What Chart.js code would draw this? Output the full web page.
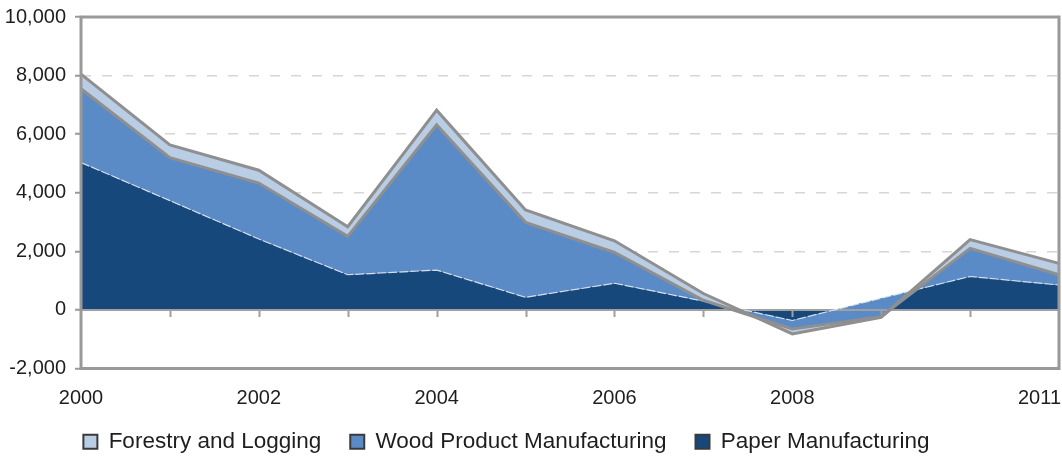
<!DOCTYPE html>
<html lang="en">
<head>
  <meta charset="UTF-8">
  <title>Forestry, wood and paper</title>
  <script src="https://cdn.jsdelivr.net/npm/chart.js"></script>
  <style>
    html, body { margin: 0; padding: 0; background: #fff; }
  </style>
</head>
<body>
  <canvas id="areaChart" width="1062" height="456"></canvas>

  <script>
    const years = ['2000', '2001', '2002', '2003', '2004', '2005', '2006', '2007', '2008', '2009', '2010', '2011'];
    const shownYears = ['2000', '2002', '2004', '2006', '2008', '2011'];

    const paper    = [5030, 3730, 2420, 1200, 1360,  430,  910,  300, -360,  400, 1140,  850];
    const wood     = [2520, 1470, 1910, 1310, 4960, 2560, 1050,   30, -290, -630,  960,  350];
    const forestry = [ 500,  430,  440,  330,  500,  420,  400,  230, -170,  -20,  300,  390];

    const tickFont = '"Liberation Sans", Arial, sans-serif';
    const lineGray = '#8f8f8f';
    const frameGray = '#999999';

    // running totals, one layer on top of the other (Excel style stacking)
    const woodTop = wood.map((v, i) => v + paper[i]);
    const forestryTop = forestry.map((v, i) => v + woodTop[i]);

    const frame = {
      id: 'frame',
      beforeDatasetsDraw(chart) {
        // zero line + its tick marks, over the fills but under the series lines
        const { ctx, chartArea: a, scales: { x, y } } = chart;
        const y0 = Math.round(y.getPixelForValue(0));
        ctx.save();
        ctx.strokeStyle = '#a0a0a0';
        ctx.lineWidth = 2;
        ctx.beginPath();
        ctx.moveTo(a.left, y0);
        ctx.lineTo(a.right, y0);
        for (let i = 1; i < years.length - 1; i++) {
          const px = Math.round(x.getPixelForValue(i)) + 0.5;
          ctx.moveTo(px, y0);
          ctx.lineTo(px, y0 + 7);
        }
        ctx.stroke();
        ctx.restore();
      },
      afterDatasetsDraw(chart) {
        const { ctx, chartArea: a } = chart;
        ctx.save();
        ctx.strokeStyle = frameGray;
        ctx.lineWidth = 3;
        ctx.strokeRect(a.left, a.top, a.right - a.left, a.bottom - a.top);
        ctx.restore();
      },
      afterDraw(chart) {
        const { ctx, chartArea: a, scales: { x } } = chart;
        ctx.save();
        ctx.font = '20px ' + tickFont;
        ctx.fillStyle = '#1e1e1e';
        ctx.textBaseline = 'middle';
        years.forEach((yr, i) => {
          if (!shownYears.includes(yr)) return;
          const px = x.getPixelForValue(i);
          const last = i === years.length - 1;
          ctx.textAlign = last ? 'right' : 'center';
          ctx.fillText(yr, last ? px + 2 : px, a.bottom + 30);
        });
        ctx.restore();
      }
    };

    new Chart(document.getElementById('areaChart'), {
      type: 'line',
      data: {
        labels: years,
        datasets: [
          {
            label: 'Paper Manufacturing',
            data: paper,
            order: 3,
            fill: 'origin',
            backgroundColor: '#17487b',
            borderColor: 'rgba(225,232,240,0.9)',
            borderWidth: 1.2,
            borderDash: [9, 2]
          },
          {
            label: 'Wood Product Manufacturing',
            data: woodTop,
            order: 2,
            fill: '-1',
            backgroundColor: '#5a8bc7',
            borderColor: lineGray,
            borderWidth: 3
          },
          {
            label: 'Forestry and Logging',
            data: forestryTop,
            order: 1,
            fill: '-1',
            backgroundColor: '#b9cde5',
            borderColor: lineGray,
            borderWidth: 3
          }
        ]
      },
      options: {
        responsive: false,
        animation: false,
        events: [],
        elements: { point: { radius: 0 }, line: { tension: 0 } },
        // negative left padding only pulls the legend row leftwards; the y axis width below puts the plot back at x=81
        layout: { padding: { top: 17, left: -46, right: 3, bottom: -7 } },
        scales: {
          x: {
            ticks: { display: false },
            grid: { display: false },
            border: { display: false },
            afterFit: s => { s.height = 33; }
          },
          y: {
            min: -2000,
            max: 10000,
            ticks: {
              stepSize: 2000,
              color: '#1e1e1e',
              padding: 9,
              font: { family: tickFont, size: 20 },
              callback: v => v.toLocaleString('en-US')
            },
            grid: {
              color: c => (c.tick && c.tick.value > 0 && c.tick.value < 10000) ? '#d6d6d6' : 'rgba(0,0,0,0)',
              lineWidth: 1.5,
              tickLength: 6,
              tickColor: frameGray,
              tickWidth: 2
            },
            border: { display: false, dash: [10, 11] },
            afterFit: s => {
              s.width = 127;
              s.paddingTop = 0;
              s.paddingBottom = 0;
            }
          }
        },
        plugins: {
          filler: { drawTime: 'beforeDatasetsDraw' },
          tooltip: { enabled: false },
          legend: {
            position: 'bottom',
            labels: {
              color: '#1e1e1e',
              font: { family: tickFont, size: 22.5 },
              boxWidth: 14,
              boxHeight: 14,
              padding: 29,
              generateLabels: chart => Chart.defaults.plugins.legend.labels.generateLabels(chart)
                .map(item => Object.assign(item, { strokeStyle: '#3a3a3a', lineWidth: 2, lineDash: [] }))
            }
          }
        }
      },
      plugins: [frame]
    });
  </script>
</body>
</html>
